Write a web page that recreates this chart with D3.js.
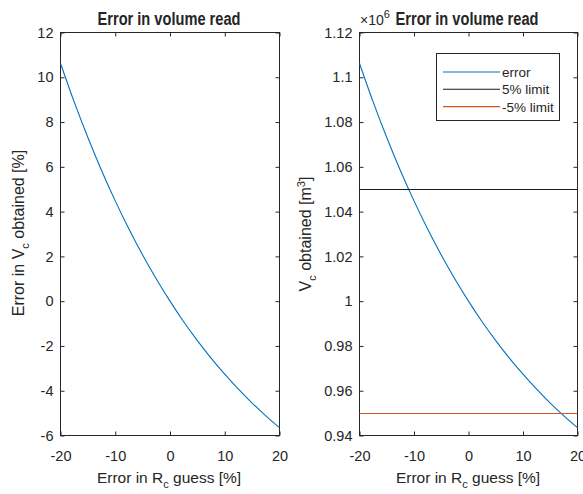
<!DOCTYPE html>
<html>
<head>
<meta charset="utf-8">
<script src="https://cdn.jsdelivr.net/npm/d3@7"></script>
<style>
html,body{margin:0;padding:0;background:#fff;}
svg text{font-family:"Liberation Sans",Arial,Helvetica,sans-serif;fill:#262626;}
</style>
</head>
<body>
<svg id="chart" width="583" height="494"></svg>
<script>
// ---- data ----
const rcGuessError = [-20, -17.5, -15, -12.5, -10, -7.5, -5, -2.5, 0, 2.5, 5, 7.5, 10, 12.5, 15, 17.5, 20];
const vcErrorPct   = [10.62, 8.90, 7.31, 5.84, 4.48, 3.22, 2.06, 0.99, 0, -0.92, -1.76, -2.54, -3.26, -3.93, -4.55, -5.12, -5.65];
const vcObtained   = [1.1062, 1.0890, 1.0731, 1.0584, 1.0448, 1.0322, 1.0206, 1.0099, 1.0, 0.9908, 0.9824, 0.9746, 0.9674, 0.9607, 0.9545, 0.9488, 0.9435]; // ×10^6 m^3
const upperLimit = 1.05;
const lowerLimit = 0.95;
const xTicks = [-20, -10, 0, 10, 20];
const leftYTicks = [-6, -4, -2, 0, 2, 4, 6, 8, 10, 12];
const rightYTicks = [0.94, 0.96, 0.98, 1, 1.02, 1.04, 1.06, 1.08, 1.1, 1.12];
const legendLabels = ["error", "5% limit", "-5% limit"];
const colors = {error: "#0072BD", upper: "#1a1a1a", lower: "#D95319"};

const svg = d3.select("#chart");
const axisColor = "#262626";
const FS = 14.5;

function panel(x0, x1, y0, y1, yDomain, yTicks, yFmt) {
  const g = svg.append("g");
  const x = d3.scaleLinear().domain([-20, 20]).range([x0, x1]);
  const y = d3.scaleLinear().domain(yDomain).range([y1, y0]);
  const mk = (ax, tr, labels) => {
    const a = g.append("g").attr("transform", tr).call(ax);
    a.select(".domain").remove();
    a.selectAll("line").attr("stroke", axisColor);
    a.selectAll("text").style("font-size", FS + "px").attr("fill", axisColor);
    if (!labels) a.selectAll("text").remove();
    return a;
  };
  mk(d3.axisBottom(x).tickValues(xTicks).tickSize(-4).tickPadding(15).tickFormat(d => String(d)), `translate(0,${y1})`, true);
  mk(d3.axisTop(x).tickValues(xTicks).tickSize(-4), `translate(0,${y0})`, false);
  mk(d3.axisLeft(y).tickValues(yTicks).tickSize(-4).tickPadding(7).tickFormat(yFmt), `translate(${x0},0)`, true);
  mk(d3.axisRight(y).tickValues(yTicks).tickSize(-4), `translate(${x1},0)`, false);
  g.append("rect").attr("x", x0).attr("y", y0).attr("width", x1 - x0).attr("height", y1 - y0)
    .attr("fill", "none").attr("stroke", axisColor).attr("stroke-width", 1);
  return {g, x, y};
}

// ---- left panel ----
const L = panel(60.5, 279.5, 32.5, 435.5, [-6, 12], leftYTicks, d => String(d));
L.g.append("path")
  .datum(rcGuessError.map((d, i) => [d, vcErrorPct[i]]))
  .attr("fill", "none").attr("stroke", colors.error).attr("stroke-width", 1.1)
  .attr("d", d3.line().x(d => L.x(d[0])).y(d => L.y(d[1])).curve(d3.curveMonotoneX));

// ---- right panel ----
const R = panel(359.5, 577.5, 32.5, 435.5, [0.94, 1.12], rightYTicks, d => String(+d.toFixed(2)));
R.g.append("path")
  .datum(rcGuessError.map((d, i) => [d, vcObtained[i]]))
  .attr("fill", "none").attr("stroke", colors.error).attr("stroke-width", 1.1)
  .attr("d", d3.line().x(d => R.x(d[0])).y(d => R.y(d[1])).curve(d3.curveMonotoneX));
[[upperLimit, colors.upper], [lowerLimit, colors.lower]].forEach(([v, c]) => {
  R.g.append("line").attr("x1", R.x(-20)).attr("x2", R.x(20))
    .attr("y1", Math.round(R.y(v)) + 0.5).attr("y2", Math.round(R.y(v)) + 0.5)
    .attr("stroke", c).attr("stroke-width", 1.1);
});

// ---- titles ----
function title(cx, txt) {
  svg.append("text").attr("x", cx).attr("y", 25).attr("text-anchor", "middle")
    .attr("textLength", 143).attr("lengthAdjust", "spacingAndGlyphs")
    .style("font-size", "17.5px").style("font-weight", "bold").attr("fill", "#000").text(txt);
}
title(169, "Error in volume read");
title(467, "Error in volume read");
const ex = svg.append("text").attr("x", 360).attr("y", 25).style("font-size", "14px").attr("fill", axisColor);
ex.append("tspan").text("×10");
ex.append("tspan").attr("dy", -7).style("font-size", "11px").text("6");

// ---- axis labels ----
function xlabel(cx) {
  const t = svg.append("text").attr("x", cx).attr("y", 483).attr("text-anchor", "middle").style("font-size", "15.5px");
  t.append("tspan").text("Error in R");
  t.append("tspan").attr("dy", 5).style("font-size", "11px").text("c");
  t.append("tspan").attr("dy", -5).text(" guess [%]");
}
xlabel(169);
xlabel(468);

const yl1 = svg.append("text").attr("transform", "translate(24,233) rotate(-90)").attr("text-anchor", "middle").style("font-size", "16px");
yl1.append("tspan").text("Error in V");
yl1.append("tspan").attr("dy", 5).style("font-size", "11px").text("c");
yl1.append("tspan").attr("dy", -5).text(" obtained [%]");

const yl2 = svg.append("text").attr("transform", "translate(311,234) rotate(-90)").attr("text-anchor", "middle").style("font-size", "16px");
yl2.append("tspan").text("V");
yl2.append("tspan").attr("dy", 5).style("font-size", "11px").text("c");
yl2.append("tspan").attr("dy", -5).text(" obtained [m");
yl2.append("tspan").attr("dy", -6).style("font-size", "11px").text("3");
yl2.append("tspan").attr("dy", 6).text("]");

// ---- legend ----
const lg = svg.append("g");
lg.append("rect").attr("x", 436.5).attr("y", 53.5).attr("width", 123).attr("height", 67)
  .attr("fill", "#fff").attr("stroke", axisColor).attr("stroke-width", 1);
const legendColors = [colors.error, colors.upper, colors.lower];
legendLabels.forEach((lab, i) => {
  const yy = 72 + i * 17.3;
  lg.append("line").attr("x1", 443).attr("x2", 500).attr("y1", yy).attr("y2", yy)
    .attr("stroke", legendColors[i]).attr("stroke-width", 1.1);
  lg.append("text").attr("x", 502).attr("y", yy + 5).style("font-size", "13.5px").attr("fill", axisColor).text(lab);
});
</script>
</body>
</html>
